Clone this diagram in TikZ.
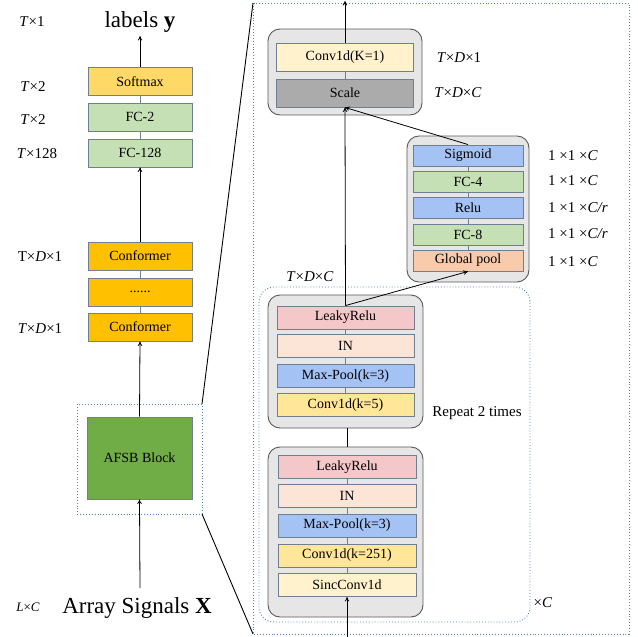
\documentclass[tikz,border=0pt]{standalone}
\usepackage{fontspec}
\setmainfont{Liberation Serif}
\usetikzlibrary{arrows.meta}
\definecolor{bordc}{HTML}{6F7F8F}
\definecolor{cyel}{HTML}{FFD966}
\definecolor{cgrn}{HTML}{C5E0B4}
\definecolor{corg}{HTML}{FFC000}
\definecolor{cafsb}{HTML}{70AD47}
\definecolor{cpale}{HTML}{FFF2CC}
\definecolor{cscale}{HTML}{ABABAB}
\definecolor{cblue}{HTML}{A4C2F4}
\definecolor{cpeach}{HTML}{F8CBAD}
\definecolor{cpink}{HTML}{F4C7C8}
\definecolor{cin}{HTML}{FCE4D6}
\definecolor{cconv}{HTML}{FFE699}
\definecolor{cgray}{HTML}{E6E6E6}
\definecolor{cdot}{HTML}{4F81BD}
\tikzset{
  x=1pt, y=-1pt,
  box/.style={draw=bordc, line width=0.9pt, inner sep=0pt, font=\fontsize{14}{16}\selectfont, anchor=center},
  lbox/.style={box, minimum width=104pt, minimum height=28pt},
  tbox/.style={box, minimum width=137pt, minimum height=28pt},
  sbox/.style={box, minimum width=110pt, minimum height=21pt},
  bbox/.style={box, minimum width=137pt, minimum height=23pt},
  cont/.style={draw=black!65, fill=cgray, line width=0.9pt, rounded corners=12pt},
  dotbox/.style={draw=cdot, dotted, line width=0.9pt},
  dim/.style={font=\fontsize{15}{17}\selectfont, inner sep=0pt},
  link/.style={draw=bordc, line width=0.8pt},
  arr/.style={draw=black, line width=0.8pt, -{To[length=4.5pt,width=4.5pt]}},
  big/.style={font=\fontsize{23}{26}\selectfont, inner sep=0pt}
}
\begin{document}
\begin{tikzpicture}
\useasboundingbox (0,0) rectangle (638,637);
% ---------- left column ----------
\node[big] (ly) at (140,22) {labels \textbf{y}};
\node[dim] (d1) at (32,22) {\textit{T}×1};
\node[lbox, fill=cyel] (soft) at (140,81.5) {Softmax};
\node[lbox, fill=cgrn] (fc2) at (140,117) {FC-2};
\node[lbox, fill=cgrn] (fc128) at (140,153) {FC-128};
\node[lbox, fill=corg] (conf1) at (140,256) {Conformer};
\node[lbox, fill=corg] (cdots) at (140,292) {......};
\node[lbox, fill=corg] (conf2) at (140,327) {Conformer};
\node[dim] (d2) at (33,87) {\textit{T}×2};
\node[dim] (d3) at (33,120) {\textit{T}×2};
\node[dim] (d4) at (37,154) {\textit{T}×128};
\node[dim] (d5) at (40,257) {T×\textit{D}×1};
\node[dim] (d6) at (40,329) {\textit{T}×\textit{D}×1};
\draw[dotbox] (77,404) rectangle (202,514);
\coordinate (dbtr) at (202,404);
\coordinate (dbbr) at (202,514);
\node[box, fill=cafsb, minimum width=105pt, minimum height=82pt] (afsb) at (139.5,458) {AFSB Block};
\node[big] (xin) at (137,608) {Array Signals \textbf{X}};
\node[dim, font=\fontsize{13}{15}\selectfont] (d7) at (28,607) {\textit{L}×\textit{C}};
\coordinate (xtop) at (140,588);
\coordinate (ytop) at (140,36);
\draw[arr] (soft.north) -- (ytop);
\draw[link] (soft) -- (fc2);
\draw[link] (fc2) -- (fc128);
\draw[arr] (conf1.north) -- (fc128.south);
\draw[link] (conf1) -- (cdots);
\draw[link] (cdots) -- (conf2);
\draw[arr] (afsb.north) -- (conf2.south);
\draw[arr] (xtop) -- (afsb.south);
% ---------- right detail ----------
\draw[dotbox] (253,3) rectangle (629,634);
\coordinate (bbtl) at (253,3);
\coordinate (bbbl) at (253,634);
\draw[line width=0.9pt] (dbtr) -- (bbtl);
\draw[line width=0.9pt] (dbbr) -- (bbbl);
% top container
\draw[cont] (268,29) rectangle (422,115);
\node[tbox, fill=cpale] (c1) at (345,57) {Conv1d(K=1)};
\node[tbox, fill=cscale] (scale) at (345,93) {Scale};
\node[dim] (d8) at (459,58) {\textit{T}×\textit{D}×1};
\node[dim] (d9) at (458,93) {\textit{T}×\textit{D}×\textit{C}};
\draw[link] (c1) -- (scale);
\coordinate (otop) at (345,1);
\draw[arr] (c1.north) -- (otop);
% SE container
\draw[cont] (407,136) rectangle (529,282);
\node[sbox, fill=cblue] (sig) at (468,155.5) {Sigmoid};
\node[sbox, fill=cgrn] (fc4) at (468,181.5) {FC-4};
\node[sbox, fill=cblue] (relu) at (468,207.5) {Relu};
\node[sbox, fill=cgrn] (fc8) at (468,234.5) {FC-8};
\node[sbox, fill=cpeach] (gp) at (468,260.5) {Global pool};
\draw[link] (sig) -- (fc4);
\draw[link] (fc4) -- (relu);
\draw[link] (relu) -- (fc8);
\draw[link] (fc8) -- (gp);
\node[dim, anchor=west] (e1) at (548,156) {1 ×1 ×\textit{C}};
\node[dim, anchor=west] (e2) at (548,181) {1 ×1 ×\textit{C}};
\node[dim, anchor=west] (e3) at (548,208) {1 ×1 ×\textit{C/r}};
\node[dim, anchor=west] (e4) at (548,234) {1 ×1 ×\textit{C/r}};
\node[dim, anchor=west] (e5) at (548,262) {1 ×1 ×\textit{C}};
\node[dim] (d10) at (310,277) {\textit{T}×\textit{D}×\textit{C}};
% repeated blocks
\draw[dotbox, rounded corners=15pt] (259,287) rectangle (530,622);
\draw[cont] (268,295) rectangle (423,428);
\coordinate (g1b) at (347,428);
\coordinate (g2t) at (347,447);
\node[bbox, fill=cpink] (lr1) at (345.5,317.5) {LeakyRelu};
\node[bbox, fill=cin] (in1) at (345.5,345.5) {IN};
\node[bbox, fill=cblue] (mp1) at (345.5,376) {Max-Pool(k=3)};
\node[bbox, fill=cconv] (cv5) at (345.5,405) {Conv1d(k=5)};
\draw[link] (lr1) -- (in1);
\draw[link] (in1) -- (mp1);
\draw[link] (mp1) -- (cv5);
\node[dim] (rep) at (477,413) {Repeat 2 times};
\draw[cont] (268,447) rectangle (423,617);
\draw[line width=0.9pt] (g1b) -- (g2t);
\node[bbox, fill=cpink, minimum width=138pt] (lr2) at (347,467) {LeakyRelu};
\node[bbox, fill=cin, minimum width=138pt] (in2) at (347,496) {IN};
\node[bbox, fill=cblue, minimum width=138pt] (mp2) at (347,525.5) {Max-Pool(k=3)};
\node[bbox, fill=cconv, minimum width=138pt] (cv251) at (347,555.5) {Conv1d(k=251)};
\node[bbox, fill=cpale, minimum width=138pt] (sinc) at (347,585) {SincConv1d};
\draw[link] (lr2) -- (in2);
\draw[link] (in2) -- (mp2);
\draw[link] (mp2) -- (cv251);
\draw[link] (cv251) -- (sinc);
\node[dim] (xc) at (543,603) {×\textit{C}};
\coordinate (sbot) at (347,637);
\draw[arr] (sbot) -- (sinc.south);
% main flow arrows
\draw[arr] (lr1.north) -- (scale.south);
\draw[arr] (lr1.north) -- (gp.south);
\draw[arr] (sig.north) -- (scale.south);
\end{tikzpicture}
\end{document}
